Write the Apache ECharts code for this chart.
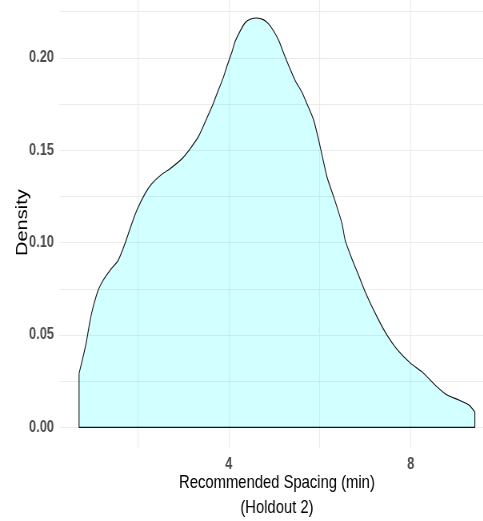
<!DOCTYPE html>
<html>
<head>
<meta charset="utf-8">
<script src="https://cdn.jsdelivr.net/npm/echarts@6/dist/echarts.min.js"></script>
<style>
  html, body { margin: 0; padding: 0; background: #fff; overflow: hidden; }
  /* the chart is laid out on a wider canvas and squeezed horizontally,
     which gives the condensed lettering of the original figure */
  #chart { width: 604px; height: 521px; transform: scaleX(0.8); transform-origin: 0 0; }
</style>
</head>
<body>
<div id="chart"></div>
<script>
// Kernel density estimate of recommended spacing (minutes), holdout 2
const spacing = [0.71, 0.79, 0.87, 0.95, 1.02, 1.13, 1.24, 1.42, 1.57, 1.72, 1.87, 1.98, 2.16, 2.31,
  2.52, 2.71, 2.97, 3.15, 3.33, 3.48, 3.63, 3.74, 3.88, 3.96, 4.07, 4.14, 4.25, 4.36, 4.47, 4.62,
  4.76, 4.87, 4.98, 5.10, 5.24, 5.46, 5.61, 5.72, 5.87, 6.01, 6.16, 6.31, 6.49, 6.56, 6.72, 6.82,
  7.00, 7.26, 7.48, 7.70, 8.00, 8.25, 8.58, 8.80, 9.06, 9.28, 9.41];
const density = [0.0292, 0.0373, 0.0461, 0.0575, 0.0652, 0.0742, 0.0796, 0.0859, 0.0904, 0.0995,
  0.1103, 0.1175, 0.1265, 0.1319, 0.1368, 0.1400, 0.1454, 0.1508, 0.1572, 0.1652, 0.1735, 0.1805,
  0.1893, 0.1955, 0.2032, 0.2088, 0.2145, 0.2190, 0.2209, 0.2216, 0.2207, 0.2185, 0.2148, 0.2094,
  0.2005, 0.1878, 0.1814, 0.1751, 0.1661, 0.1520, 0.1355, 0.1246, 0.1103, 0.1012, 0.0904, 0.0845,
  0.0733, 0.0598, 0.0499, 0.0422, 0.0346, 0.0300, 0.0219, 0.0175, 0.0148, 0.0121, 0.0084];

const xTickLabels = [4, 8];
const xGridValues = [2, 4, 6, 8];
const yTickLabels = [0, 0.05, 0.10, 0.15, 0.20];
const yGridValues = [0, 0.025, 0.05, 0.075, 0.10, 0.125, 0.15, 0.175, 0.20, 0.225];

const xTitle = 'Recommended Spacing (min)\n(Holdout 2)';
const yTitle = 'Density';

// ggplot-style 5% padding around the data range
const xLo = spacing[0], xHi = spacing[spacing.length - 1];
const yHi = Math.max(...density);
const xPad = (xHi - xLo) * 0.05, yPad = yHi * 0.05;

const curve = spacing.map((x, i) => [x, density[i]]);
const n = spacing.length - 1;
// straight parts of the outline: left edge, baseline, right edge
const outline = [
  [spacing[0], density[0]], [spacing[0], 0], [spacing[n], 0], [spacing[n], density[n]]
];

const sans = "'Liberation Sans', Arial, sans-serif";
const tickFont = { color: '#4d4d4d', fontWeight: 'bold', fontSize: 16, fontFamily: sans };

const chart = echarts.init(document.getElementById('chart'), null, { renderer: 'canvas' });
chart.setOption({
  animation: false,
  backgroundColor: '#ffffff',
  grid: { left: 74.1, right: -14.3, top: -2.5, bottom: 73.2, containLabel: false, outerBoundsMode: 'none' },
  xAxis: {
    type: 'value',
    min: xLo - xPad,
    max: xHi + xPad,
    axisLine: { show: false },
    axisTick: { show: false, customValues: xGridValues },
    axisLabel: Object.assign({ customValues: xTickLabels, margin: 9, formatter: v => String(v) }, tickFont),
    splitLine: { show: true, lineStyle: { color: '#ebebeb', width: 1.1 } },
    name: xTitle,
    nameLocation: 'middle',
    nameGap: 23,
    nameMoveOverlap: false,
    nameTextStyle: { color: '#000', fontSize: 18.5, fontFamily: sans, lineHeight: 25 }
  },
  yAxis: {
    type: 'value',
    min: -yPad,
    max: yHi + yPad,
    axisLine: { show: false },
    axisTick: { show: false, customValues: yGridValues },
    axisLabel: Object.assign({ customValues: yTickLabels, margin: 6.6, formatter: v => v.toFixed(2) }, tickFont),
    splitLine: { show: true, lineStyle: { color: '#ebebeb', width: 1.1 } },
    name: yTitle,
    nameLocation: 'middle',
    nameGap: 36,
    nameRotate: 90,
    nameMoveOverlap: false,
    nameTextStyle: { color: '#000', fontSize: 20, fontFamily: sans }
  },
  series: [
    {
      type: 'line',
      data: curve,
      smooth: 0.2,
      symbol: 'none',
      lineStyle: { color: '#111', width: 1.1 },
      areaStyle: { color: 'rgba(0,255,255,0.25)', origin: 0 },
      silent: true
    },
    {
      type: 'line',
      data: outline,
      symbol: 'none',
      lineStyle: { color: '#111', width: 1.1 },
      silent: true
    }
  ]
});
</script>
</body>
</html>
